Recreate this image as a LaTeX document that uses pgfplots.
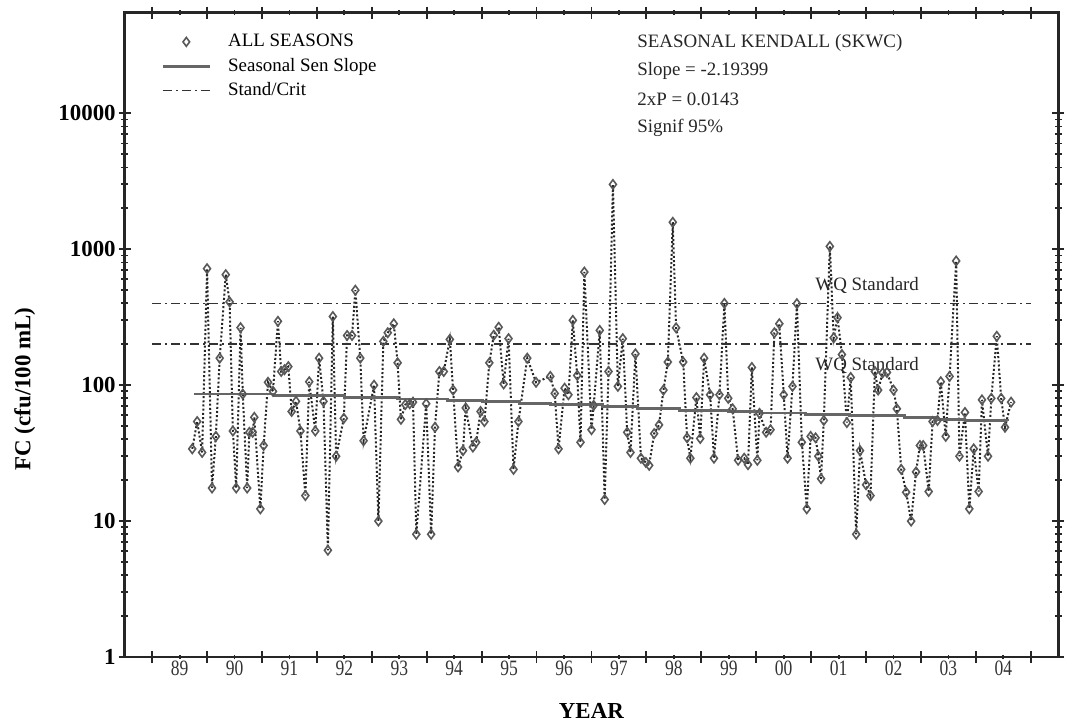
\documentclass[border=0pt]{standalone}
\usepackage{fontspec}
\setmainfont{Liberation Serif}
\usepackage{graphicx}
\usepackage{pgfplots}
\pgfplotsset{compat=1.18}

% monthly FC samples, all seasons
\pgfplotstableread{
year value
1989.23 34
1989.32 54
1989.41 32
1989.50 720
1989.59 17.5
1989.66 42
1989.73 158
1989.84 650
1989.91 410
1989.97 46
1990.03 17.5
1990.11 265
1990.15 86
1990.23 17.5
1990.27 45
1990.33 45
1990.36 58
1990.47 12.3
1990.53 36
1990.61 105
1990.70 90
1990.79 295
1990.85 126
1990.91 130
1990.98 137
1991.04 64
1991.12 76
1991.20 46
1991.29 15.4
1991.36 106
1991.47 46
1991.54 158
1991.62 76
1991.70 6.1
1991.79 320
1991.85 30
1991.99 57
1992.05 232
1992.14 232
1992.20 500
1992.29 158
1992.35 39
1992.54 100
1992.62 10
1992.71 210
1992.79 243
1992.90 283
1992.97 146
1993.03 56
1993.11 72
1993.19 73
1993.25 75
1993.31 8
1993.49 73
1993.58 8
1993.65 49
1993.73 126
1993.81 126
1993.92 217
1993.98 92
1994.07 25
1994.16 33
1994.21 68
1994.34 35
1994.40 38
1994.48 64
1994.55 54
1994.64 146
1994.72 233
1994.81 267
1994.90 102
1994.99 220
1995.08 24
1995.17 54
1995.33 158
1995.49 105
1995.75 116
1995.83 87
1995.90 34
1996.01 95
1996.08 85
1996.16 300
1996.24 118
1996.30 38
1996.37 680
1996.50 47
1996.54 71
1996.65 253
1996.74 14.4
1996.81 126
1996.89 3000
1996.98 98
1997.07 220
1997.15 45
1997.21 32
1997.30 170
1997.40 29
1997.49 27
1997.55 25.7
1997.64 44
1997.73 51
1997.81 92
1997.89 148
1997.98 1580
1998.04 264
1998.17 148
1998.24 41
1998.30 29
1998.41 81
1998.48 40.5
1998.55 158
1998.66 85
1998.73 29
1998.83 85
1998.92 400
1998.99 80
1999.07 67
1999.17 28
1999.28 29
1999.35 26
1999.42 135
1999.52 28
1999.56 62
1999.68 45
1999.76 47
1999.83 243
1999.92 283
2000.00 85
2000.07 29
2000.16 98
2000.24 398
2000.33 38
2000.42 12.3
2000.49 42
2000.58 41
2000.63 30
2000.68 20.5
2000.73 55
2000.84 1050
2000.91 223
2000.98 314
2001.06 168
2001.15 53
2001.22 114
2001.32 8
2001.39 33
2001.50 18.5
2001.58 15.4
2001.66 126
2001.72 92
2001.80 123
2001.88 124
2002.00 92
2002.06 67
2002.14 24
2002.23 16.3
2002.32 10
2002.41 23
2002.48 36
2002.54 36
2002.64 16.5
2002.71 54
2002.80 55
2002.86 106
2002.95 42
2003.02 116
2003.14 820
2003.20 30
2003.30 63
2003.38 12.3
2003.46 34
2003.55 16.5
2003.61 78
2003.72 30
2003.78 80
2003.88 229
2003.96 80
2004.03 49
2004.14 75
}\fcdata

% seasonal Sen slope, drawn as steps
\pgfplotstableread{
year value
1989.26 86
1990.72 83.5
1992.00 81.5
1992.97 79
1993.88 77
1994.52 75.5
1995.19 73.5
1995.76 72
1996.70 69.5
1997.34 67.5
1998.10 65.5
1999.00 64
1999.60 62.5
2000.40 61
2001.20 59.5
2002.20 57.5
2002.80 56
2003.30 55
2004.08 54.5
}\sendata

\begin{document}
\begin{tikzpicture}
\useasboundingbox (-62.35bp,-33.5bp) rectangle (470.65bp,328.5bp);
\begin{axis}[
    at={(0,0)}, anchor=south west,
    scale only axis,
    width=466.8bp, height=322.15bp,
    ymode=log,
    xmin=1988, xmax=2005,
    ymin=1, ymax=55000,
    axis line style={black!85, line width=1.4bp},
    tick style={black!85, line width=0.9bp},
    tick align=center,
    major tick length=6bp,
    minor tick length=3.5bp,
    xtick={1988.5,1989.5,...,2004.5},
    xticklabels={},
    extra x ticks={1989,1990,...,2004},
    extra x tick labels={89,90,91,92,93,94,95,96,97,98,99,00,01,02,03,04},
    extra x tick style={major tick length=2.5bp,
        tick label style={font=\fontsize{11}{12}\selectfont, text=black!80, xscale=0.8, yshift=3bp}},
    ytick={1,10,100,1000,10000},
    yticklabels={\textbf{1},\textbf{10},\textbf{100},\textbf{1000},\textbf{10000}},
    minor ytick={2,3,4,5,6,7,8,9,20,30,40,50,60,70,80,90,200,300,400,500,600,700,800,900,2000,3000,4000,5000,6000,7000,8000,9000},
    yticklabel style={font=\fontsize{11.5}{12}\selectfont, xshift=2bp},
    xlabel={\textbf{YEAR}},
    xlabel style={font=\fontsize{11.5}{12}\selectfont, at={(axis description cs:0.5,-0.0838)}, anchor=center},
    ylabel={\textbf{FC (cfu/100 mL)}},
    ylabel style={font=\fontsize{11.5}{12}\selectfont, at={(axis description cs:-0.107,0.416)}, anchor=center},
    legend cell align=left,
    legend style={at={(axis description cs:0.0389,0.972)}, anchor=north west,
        draw=none, fill=none, inner sep=0pt, row sep=1.2bp, column sep=7bp,
        font=\fontsize{9.5}{11}\selectfont, nodes={inner sep=1.5bp}},
    legend image code/.code={\draw[mark repeat=2,mark phase=2,#1]
        plot coordinates {(0bp,0bp) (11.75bp,0bp) (23.5bp,0bp)};},
    clip=false,
]
\addlegendimage{only marks, mark=diamond, mark size=2.2bp, mark options={draw=black!65, fill=white, line width=0.8bp, solid}}
\addlegendentry{ALL SEASONS}
\addplot[forget plot, black!85, line width=1bp, dash pattern=on 1bp off 1.1bp,
    mark=diamond, mark size=2.3bp, mark options={draw=black!65, fill=white, line width=0.8bp, solid}]
    table[x=year, y=value] {\fcdata};
\addplot[const plot, black!60, line width=1.4bp] table[x=year, y=value] {\sendata};
\addlegendentry{Seasonal Sen Slope}
\addplot[black!80, line width=0.8bp, dash pattern=on 4.5bp off 2bp on 1bp off 2bp]
    coordinates {(1988.5,400) (2004.5,400)};
\addlegendentry{Stand/Crit}
\addplot[forget plot, black!80, line width=0.8bp, dash pattern=on 4.5bp off 2bp on 1bp off 2bp]
    coordinates {(1988.5,200) (2004.5,200)};
\begin{scope}[every node/.style={font=\fontsize{9.5}{11}\selectfont, text=black!85, anchor=west, inner sep=0pt}]
\node at (axis description cs:0.5487,0.953) {SEASONAL KENDALL (SKWC)};
\node at (axis description cs:0.5487,0.9095) {Slope = -2.19399};
\node at (axis description cs:0.5487,0.866) {2xP = 0.0143};
\node at (axis description cs:0.5487,0.821) {Signif 95\%};
\node at (axis description cs:0.7394,0.5774) {WQ Standard};
\node at (axis description cs:0.7394,0.4532) {WQ Standard};
\end{scope}
\end{axis}
\end{tikzpicture}
\end{document}
